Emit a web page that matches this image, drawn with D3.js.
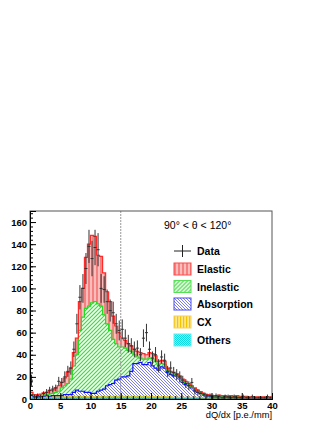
<!DOCTYPE html>
<html>
<head>
<meta charset="utf-8">
<script src="https://cdn.jsdelivr.net/npm/d3@7"></script>
<style>
  body { margin: 0; background: #fff; }
  svg text { font-family: "Liberation Sans", Arial, sans-serif; }
</style>
</head>
<body>
<div class="chart-container"></div>
<script>
// bins of 0.5 from 0 to 40 (80 bins)
const binLow = d3.range(0, 40, 0.5);
const binWidth = 0.5;

const others = [1,1,1,1.5,1.5,1.5,1.5,1.5,1.5,1.5, 1.5,1.5,1.5,1.5,2,2,2,2,1.5,1.5,
  1.5,1.5,1.5,2,2,2,2,2,2,2, 2,2,2,2,2,2,2,2,2,1.5,
  1.5,1.5,1.5,1.5,1.5,1.5,1.5,1,1,1, 1,1,1,1,1,1,0.5,0.5,0.5,0.5,
  0.5,0.5,0.5,0.5,0.5,0.5,0.5,0.5,0.5,0.5, 0.5,0.5,0.5,0.5,0.5,0.5,0.5,0.5,0.5,0.5];
const cx = [0.5,0.5,0.5,0.5,0.5,0.5,0.5,0.5,0.5,0.5, 0.5,0.5,0.5,0.5,0.5,0.5,0.5,0.5,0.5,0.5,
  0.5,0.5,0.5,0.5,0.5,0.5,0.5,0.5,0.5,0.5, 0.5,0.5,0.5,0.5,0.5,0.5,0.5,0.5,0.5,0.5,
  0.5,0.5,0.5,0.5,0.5,0.5,0.5,0.5,0.5,0.5, 0.5,0.5,0.5,0.5,0.5,0.5,0.5,0.5,0.5,0.5,
  0.5,0.5,0.5,0.5,0.5,0.5,0.5,0.5,0.5,0.5, 0,0,0,0,0,0,0,0,0,0];
const absorption = [1.5,0.5,0.5,0.5,0.5,1,0.5,1,1,1, 1,2,2,2,3.5,5.5,4.5,4.5,4,4,
  3,3,5,5.5,6.5,9.5,10.5,11.5,14.5,15.5, 17.5,17.5,18.5,22.5,29.5,29.5,30.5,28.5,28.5,31,
  28,26,24,27,26,22,20,19.5,19.5,17.5, 13.5,11.5,10.5,8.5,6.5,4.5,4,2.5,2,1.5,
  1,1,1.5,1,1,0.5,1,0.5,1,0.5, 0.5,1,0.5,0.5,0.5,0.5,0.5,0.5,0.5,0.5];
const inelastic = [1,1,1,1,1,1,2,2,3,4, 7,8,10,14,24,32,55,67,76,78,
  82,83,79,76,67,56,49,40,33,29, 27,26,23,18,8,6,4,5,5,4,
  6,6,5,3,3,2,2,2,1,1, 1,1,1,1,1,1,1,0.5,0.5,0.5,
  0.5,0.5,0.5,0.5,0.5,0.5,0.5,0.5,0.5,0.5, 0.5,0.5,0.5,0.5,0.5,0.5,0.5,0.5,0.5,0.5];
const elastic = [2,1,1,1,2,2,3,3,4,5, 5,7,10,10,12,15,26,26,46,56,
  61,59,44,45,38,29,26,21,16,13, 8,7,6,5,5,5,5,5,4,5,
  5,5,3,3,3,2,1,1,1,1, 2,2,1,1,1,1,0.5,1,0.5,0.5,
  0.5,0.5,0.5,0.5,0.5,0.5,0.5,0.5,0.5,0.5, 0.5,0.5,0.5,0.5,0.5,0.5,0.5,0.5,0.5,0.5];

const dataValues = [17,2,3,2,5,6,8,9,10,16, 15,20,25,28,45,68,92,100,118,138,
  127,137,135,100,99,88,80,78,68,62, 63,55,50,48,45,46,40,55,60,45,
  37,40,30,38,35,25,28,24,22,20, 17,14,12,15,7,6,5,4,3,3,
  2,3,2,1,2,2,1,2,1,1, 2,1,1,2,1,1,1,1,2,1];
const dataErrors = [5,2,2,2,2,3,3,3,3,4, 4,5,5,6,7,9,11,13,14,15,
  16,16,15,13,12,11,10,10,9,9, 9,8,8,7,7,7,6,8,8,7,
  6,7,6,6,6,5,6,5,5,5, 4,4,4,4,3,3,2,2,2,2,
  2,2,2,1,2,2,1,2,1,1, 2,1,1,2,1,1,1,1,2,1];

const legendLabels = ["Data", "Elastic", "Inelastic", "Absorption", "CX", "Others"];
const xTicks = [0, 5, 10, 15, 20, 25, 30, 35, 40];
const yTicks = [0, 20, 40, 60, 80, 100, 120, 140, 160];

const width = 327, height = 423;
const frame = {left: 30, right: 272, top: 211, bottom: 399};

const svg = d3.select(".chart-container")
  .append("svg")
  .attr("width", width)
  .attr("height", height);

const x = d3.scaleLinear().domain([0, 40]).range([frame.left, frame.right]);
const y = d3.scaleLinear().domain([0, 170]).range([frame.bottom, frame.top]);

// fill patterns
const defs = svg.append("defs");
function hatch(id, w, draw) {
  const p = defs.append("pattern").attr("id", id)
    .attr("patternUnits", "userSpaceOnUse")
    .attr("width", w).attr("height", w);
  draw(p);
}
hatch("pElastic", 4, p => {
  p.append("rect").attr("width", 4).attr("height", 4).attr("fill", "#f58080");
  p.append("rect").attr("x", 2).attr("width", 2).attr("height", 4).attr("fill", "#fbbcbc");
});
hatch("pInelastic", 4, p => {
  p.append("rect").attr("width", 4).attr("height", 4).attr("fill", "#f2fff2");
  p.append("path").attr("d", "M0,4 L4,0 M-1,1 L1,-1 M3,5 L5,3")
    .attr("stroke", "#3ad83a").attr("stroke-width", 1.1);
});
hatch("pAbsorption", 3, p => {
  p.append("rect").attr("width", 3).attr("height", 3).attr("fill", "#fff");
  p.append("path").attr("d", "M0,0 L3,3 M-1,2 L1,4 M2,-1 L4,1")
    .attr("stroke", "#6464e4").attr("stroke-width", 0.85);
});
hatch("pCX", 3, p => {
  p.append("rect").attr("width", 3).attr("height", 3).attr("fill", "#ffe88a");
  p.append("rect").attr("x", 0).attr("width", 1.2).attr("height", 3).attr("fill", "#f5c400");
});
hatch("pOthers", 2, p => {
  p.append("rect").attr("width", 2).attr("height", 2).attr("fill", "#7ff2f2");
  p.append("rect").attr("width", 1).attr("height", 1).attr("fill", "#10d8e0");
  p.append("rect").attr("x", 1).attr("y", 1).attr("width", 1).attr("height", 1).attr("fill", "#10d8e0");
});

const keys = ["others", "cx", "absorption", "inelastic", "elastic"];
const series = {others, cx, absorption, inelastic, elastic};
const fills = {others: "url(#pOthers)", cx: "url(#pCX)", absorption: "url(#pAbsorption)",
  inelastic: "url(#pInelastic)", elastic: "url(#pElastic)"};
const lines = {others: "#00e0e8", cx: "#f5c400", absorption: "#1010ff",
  inelastic: "#22dd22", elastic: "#ff2a2a"};

const table = binLow.map((lo, i) => {
  const row = {lo};
  keys.forEach(k => row[k] = series[k][i]);
  return row;
});
const stacked = d3.stack().keys(keys)(table);

// turn bins into step points
const steps = layer => layer.flatMap(d => [
  {x: d.data.lo, y0: d[0], y1: d[1]},
  {x: d.data.lo + binWidth, y0: d[0], y1: d[1]}
]);

const area = d3.area()
  .x(d => x(d.x))
  .y0(d => y(d.y0))
  .y1(d => y(d.y1));
const topLine = d3.line()
  .x(d => x(d.x))
  .y(d => y(d.y1));

const plot = svg.append("g");
plot.selectAll("path.fill")
  .data(stacked)
  .enter().append("path")
  .attr("class", "fill")
  .attr("fill", d => fills[d.key])
  .attr("d", d => area(steps(d)));

plot.selectAll("path.edge")
  .data(stacked)
  .enter().append("path")
  .attr("class", "edge")
  .attr("fill", "none")
  .attr("stroke", d => lines[d.key])
  .attr("stroke-width", 1.2)
  .attr("d", d => topLine(steps(d)));

// dashed cut line at 15
svg.append("line")
  .attr("x1", x(15)).attr("x2", x(15))
  .attr("y1", frame.top).attr("y2", frame.bottom)
  .attr("stroke", "#999")
  .attr("stroke-width", 1)
  .attr("stroke-dasharray", "2,1");

// data points
const dataG = svg.append("g")
  .attr("stroke", "#333")
  .attr("stroke-width", 1);
binLow.forEach((lo, i) => {
  if (dataValues[i] <= 0) return;
  const cxp = x(lo + binWidth / 2);
  dataG.append("line")
    .attr("x1", cxp).attr("x2", cxp)
    .attr("y1", y(Math.max(dataValues[i] - dataErrors[i], 0)))
    .attr("y2", y(Math.min(dataValues[i] + dataErrors[i], 170)));
  dataG.append("line")
    .attr("x1", x(lo)).attr("x2", x(lo + binWidth))
    .attr("y1", y(dataValues[i])).attr("y2", y(dataValues[i]));
});

// frame
svg.append("rect")
  .attr("x", frame.left).attr("y", frame.top)
  .attr("width", frame.right - frame.left)
  .attr("height", frame.bottom - frame.top)
  .attr("fill", "none")
  .attr("stroke", "#555")
  .attr("stroke-width", 1);

// axes
svg.append("g")
  .attr("transform", `translate(0,${frame.bottom})`)
  .call(d3.axisBottom(x).tickValues(xTicks).tickSize(-6).tickPadding(3).tickFormat(d3.format("d")));
svg.append("g")
  .attr("transform", `translate(0,${frame.bottom})`)
  .call(d3.axisBottom(x).tickValues(d3.range(0, 41, 1)).tickSize(-3).tickFormat(""));
svg.append("g")
  .attr("transform", `translate(${frame.left},0)`)
  .call(d3.axisLeft(y).tickValues(yTicks).tickSize(-6).tickPadding(3).tickFormat(d3.format("d")));
svg.append("g")
  .attr("transform", `translate(${frame.left},0)`)
  .call(d3.axisLeft(y).tickValues(d3.range(0, 171, 4)).tickSize(-3).tickFormat(""));

svg.selectAll(".domain").attr("stroke", "#000");
svg.selectAll(".tick line").attr("stroke", "#000");
svg.selectAll(".tick text")
  .attr("fill", "#000")
  .style("font-size", "9.5px")
  .style("font-weight", "bold")
  .style("font-family", "Liberation Sans, Arial, sans-serif");

svg.append("text")
  .attr("x", frame.right)
  .attr("y", 418)
  .attr("text-anchor", "end")
  .style("font-size", "9.3px")
  .text("dQ/dx [p.e./mm]");

// legend
svg.append("text")
  .attr("x", 164)
  .attr("y", 229)
  .style("font-size", "10.5px")
  .text("90° < θ < 120°");

const legendY = [251, 269, 286.5, 304, 322, 340];
const legendFill = [null, "url(#pElastic)", "url(#pInelastic)", "url(#pAbsorption)", "url(#pCX)", "url(#pOthers)"];
const legendStroke = [null, "#ff4a4a", "#55e055", "#4a4aee", "#f5d060", "#60f0f0"];
const legend = svg.append("g");
legendLabels.forEach((label, i) => {
  const g = legend.append("g").attr("transform", `translate(174,${legendY[i]})`);
  if (i === 0) {
    g.append("line").attr("x1", 0).attr("x2", 17).attr("y1", 0).attr("y2", 0)
      .attr("stroke", "#222");
    g.append("line").attr("x1", 8.5).attr("x2", 8.5).attr("y1", -6).attr("y2", 6)
      .attr("stroke", "#222");
  } else {
    g.append("rect").attr("x", 0).attr("y", -6).attr("width", 17).attr("height", 12)
      .attr("fill", legendFill[i])
      .attr("stroke", legendStroke[i])
      .attr("stroke-width", 1);
  }
  g.append("text")
    .attr("x", 23)
    .attr("y", 4)
    .style("font-size", "10.5px")
    .style("font-weight", "bold")
    .text(label);
});
</script>
</body>
</html>
